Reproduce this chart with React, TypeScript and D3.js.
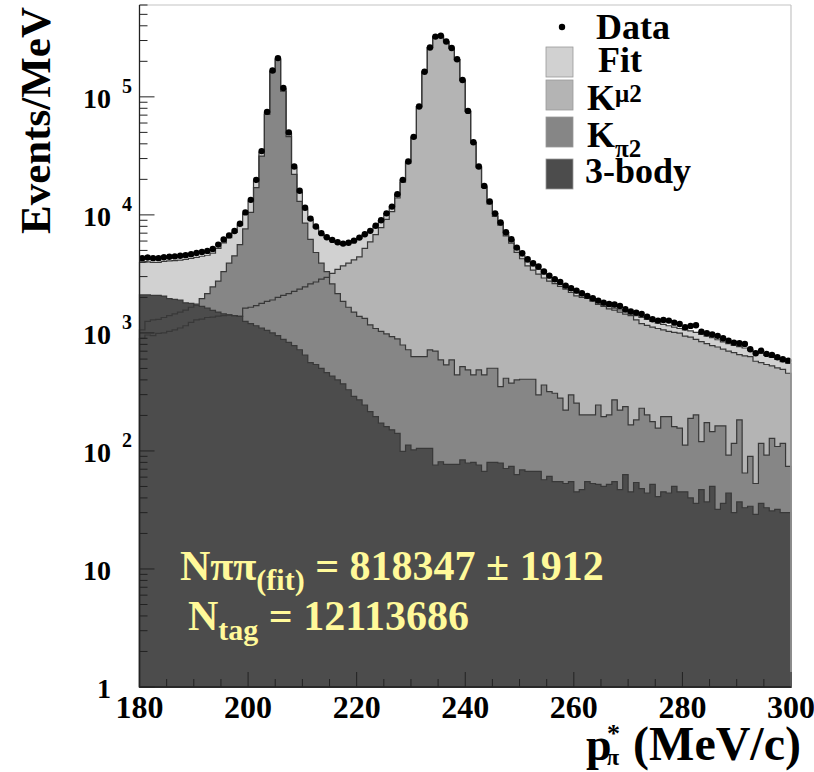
import React from 'react';
import * as d3 from 'd3';

// p*_pi bins: 1 MeV/c from 180 to 300
const binLow = 180;
const binHigh = 300;

const dataCounts = [
  4300, 4350, 4300, 4300, 4380, 4420, 4450, 4500, 4560, 4650,
  4750, 4850, 4950, 5150, 5600, 6200, 6700, 7300, 8400, 10500,
  13400, 19800, 34700, 74600, 167000, 213000, 119000, 50000, 25700, 16000,
  11500, 9300, 7960, 7000, 6470, 6140, 5870, 5710, 5800, 6050,
  6420, 6860, 7320, 8100, 9000, 10300, 11750, 14960, 19800, 28300,
  45800, 82800, 163000, 262000, 324000, 329000, 294000, 259000, 208000, 139000,
  76000, 41300, 25700, 17600, 12970, 10300, 8610, 7130, 6220, 5280,
  4730, 4210, 3890, 3650, 3310, 3060, 2850, 2705, 2517, 2393,
  2282, 2168, 2060, 1968, 1878, 1806, 1761, 1738, 1694, 1588,
  1517, 1486, 1449, 1375, 1306, 1271, 1288, 1271, 1222, 1191,
  1117, 1146, 1161, 1026, 994, 968, 944, 902, 861, 828,
  817, 807, 728, 673, 708, 664, 651, 622, 598, 582,
];

const fitCounts = [
  3960, 4000, 3960, 3960, 4030, 4070, 4090, 4140, 4200, 4280,
  4370, 4460, 4550, 4740, 5200, 5800, 6400, 7100, 8200, 10200,
  13100, 19400, 34000, 73500, 165000, 210000, 117000, 49000, 25000, 15600,
  11200, 9100, 7800, 6900, 6400, 6050, 5800, 5680, 5750, 6000,
  6350, 6800, 7300, 8050, 8950, 10250, 11700, 14900, 19700, 28200,
  45600, 82500, 162500, 261000, 323000, 328000, 293000, 258000, 207000, 138500,
  75800, 41200, 25600, 17500, 12900, 10250, 8550, 7080, 6150, 5200,
  4500, 4000, 3700, 3460, 3160, 2920, 2730, 2580, 2420, 2290,
  2180, 2070, 1970, 1880, 1800, 1730, 1670, 1620, 1570, 1510,
  1450, 1400, 1350, 1300, 1250, 1210, 1180, 1150, 1120, 1090,
  1060, 1040, 1010, 970, 940, 910, 875, 840, 810, 785,
  765, 745, 715, 690, 670, 645, 620, 595, 572, 553,
];

const kmu2Counts = [
  900, 960, 950, 990, 1000, 1030, 1060, 1100, 1150, 1230,
  1290, 1310, 1350, 1360, 1390, 1400, 1420, 1400, 1380, 1620,
  1650, 1700, 1780, 1850, 1900, 2000, 2080, 2150, 2250, 2350,
  2450, 2600, 2700, 2850, 2950, 3200, 3450, 3700, 3900, 4150,
  4400, 5200, 5900, 6800, 7800, 9150, 10650, 13900, 18900, 27400,
  45000, 82000, 162000, 260000, 322000, 327000, 292000, 257000, 206000, 137500,
  75400, 40700, 25100, 17100, 12400, 9700, 8180, 6650, 5770, 4820,
  4250, 3700, 3400, 3150, 2920, 2750, 2620, 2480, 2350, 2200,
  2060, 2000, 1960, 1860, 1740, 1680, 1600, 1560, 1500, 1440,
  1400, 1290, 1200, 1160, 1120, 1090, 1060, 1030, 1010, 995,
  940, 920, 880, 845, 810, 780, 760, 730, 700, 680,
  655, 640, 630, 575, 560, 540, 525, 505, 490, 455,
];

const kpi2Counts = [
  1060, 1250, 1290, 1300, 1350, 1400, 1450, 1500, 1560, 1650,
  1750, 1950, 2150, 2450, 2750, 3300, 3900, 4500, 5600, 7600,
  10500, 17000, 31500, 71000, 163000, 208000, 112000, 46000, 22000, 13000,
  8500, 6200, 4800, 3900, 3300, 2600, 2150, 1850, 1650, 1500,
  1380, 1330, 1170, 1090, 1030, 980, 930, 890, 790, 720,
  630, 630, 630, 718, 700, 590, 536, 590, 441, 518,
  486, 441, 486, 441, 502, 502, 351, 413, 375, 400,
  405, 405, 405, 298, 362, 318, 308, 280, 222, 298,
  254, 202, 202, 202, 245, 195, 202, 271, 222, 237,
  166, 183, 230, 202, 177, 156, 195, 195, 161, 156,
  112, 189, 202, 120, 174, 146, 163, 163, 92, 116,
  183, 65, 90, 53, 116, 92, 128, 109, 116, 74,
];

const threeBodyCounts = [
  2100, 2100, 2080, 2080, 2050, 1950, 1920, 1900, 1800, 1780,
  1720, 1680, 1620, 1550, 1500, 1450, 1420, 1400, 1380, 1250,
  1200, 1150, 1100, 1050, 1000, 950, 880, 830, 780, 720,
  650, 560, 540, 500, 460, 430, 400, 370, 330, 290,
  271, 245, 215, 195, 172, 161, 151, 141, 99, 112,
  102, 105, 105, 105, 76, 81, 77, 77, 77, 84,
  79, 80, 76, 67, 80, 80, 79, 71, 74, 63,
  69, 67, 67, 67, 57, 61, 55, 55, 53, 55,
  45, 47, 55, 53, 52, 50, 52, 55, 47, 63,
  45, 54, 48, 44, 52, 41, 45, 44, 50, 45,
  45, 40, 36, 47, 37, 50, 32, 36, 44, 30,
  37, 33, 34, 29, 36, 33, 31, 32, 30, 30,
];

const xTickValues = [180, 200, 220, 240, 260, 280, 300];
const yDecadeValues = [1, 10, 100, 1000, 10000, 100000];
const yDecadeBase = ['1', '10', '10', '10', '10', '10'];
const yDecadeExp = ['', '', '2', '3', '4', '5'];

const seriesNames = ['Fit', 'K', 'K', '3-body'];
const seriesScripts = ['', 'μ2', 'π2', ''];
const seriesColors = ['#d1d1d1', '#b4b4b4', '#868686', '#4c4c4c'];

const FONT = '"Liberation Serif", "Times New Roman", Times, serif';
const YELLOW = '#fff99a';

export default function App() {
  const left = 139.5, right = 791, top = 5, bottom = 687;
  const x = d3.scaleLinear().domain([binLow, binHigh]).range([left, right]);
  const y = d3.scaleLog().domain([1, 6e5]).range([bottom, top]);

  const stepPath = (vals: number[]) => {
    let d = `M${x(binLow)},${bottom}`;
    vals.forEach((v, i) => {
      const yy = y(Math.max(v, 1));
      d += `L${x(binLow + i)},${yy}L${x(binLow + i + 1)},${yy}`;
    });
    d += `L${x(binHigh)},${bottom}Z`;
    return d;
  };

  const hists = [fitCounts, kmu2Counts, kpi2Counts, threeBodyCounts];

  const yMinor: number[] = [];
  for (let dec = 1; dec <= 1e5; dec *= 10) {
    for (let m = 2; m <= 9; m++) {
      const v = m * dec;
      if (v <= 6e5) yMinor.push(v);
    }
  }
  const xMinor: number[] = [];
  for (let v = binLow + 5; v < binHigh; v += 5) if ((v - binLow) % 20 !== 0) xMinor.push(v);

  return (
    <svg width={814} height={772} style={{ position: 'absolute', left: 0, top: 0, display: 'block', background: '#fff' }}
      fontFamily={FONT} fontWeight="bold">
      <rect x={0} y={0} width={814} height={772} fill="#ffffff" />
      {/* fills */}
      {hists.map((h, k) => (
        <path key={'f' + k} d={stepPath(h)} fill={seriesColors[k]} stroke="none" />
      ))}
      {/* outlines */}
      {hists.map((h, k) => (
        <path key={'o' + k} d={stepPath(h)} fill="none" stroke="#383838" strokeWidth={1.2} />
      ))}
      {/* data points */}
      {dataCounts.map((v, i) => (
        <circle key={'d' + i} cx={x(binLow + i + 0.5)} cy={y(v)} r={3.2} fill="#000" />
      ))}

      {/* frame */}
      <line x1={left} x2={right} y1={top} y2={top} stroke="#c4c4c4" strokeWidth={1.2} />
      <line x1={right} x2={right} y1={top} y2={bottom} stroke="#c4c4c4" strokeWidth={1.2} />
      <line x1={left} x2={left} y1={top} y2={bottom} stroke="#222" strokeWidth={1.3} />
      <line x1={left} x2={right} y1={bottom} y2={bottom} stroke="#222" strokeWidth={1.3} />

      {/* y ticks */}
      {yDecadeValues.map((v) => (
        <line key={'ym' + v} x1={left} x2={left + 15} y1={y(v)} y2={y(v)} stroke="#222" strokeWidth={1} />
      ))}
      {yMinor.map((v) => (
        <line key={'yn' + v} x1={left} x2={left + 8} y1={y(v)} y2={y(v)} stroke="#222" strokeWidth={1} />
      ))}
      {/* x ticks */}
      {xTickValues.map((v) => (
        <line key={'xm' + v} x1={x(v)} x2={x(v)} y1={bottom} y2={bottom - 15} stroke="#222" strokeWidth={1} />
      ))}
      {xMinor.map((v) => (
        <line key={'xn' + v} x1={x(v)} x2={x(v)} y1={bottom} y2={bottom - 8} stroke="#222" strokeWidth={1} />
      ))}

      {/* y tick labels */}
      {yDecadeValues.map((v, i) => (
        <g key={'yl' + v}>
          <text x={111} y={y(v) + 11} fontSize={28} textAnchor="end" fill="#000">{yDecadeBase[i]}</text>
          {yDecadeExp[i] && (
            <text x={122} y={y(v) - 4} fontSize={20} fill="#000">{yDecadeExp[i]}</text>
          )}
        </g>
      ))}
      {/* x tick labels */}
      {xTickValues.map((v) => (
        <text key={'xl' + v} x={x(v)} y={718} fontSize={32} textAnchor="middle" fill="#000">{v}</text>
      ))}

      {/* axis titles */}
      <text transform="translate(50,7) rotate(-90)" textAnchor="end" fontSize={43} fill="#000">Events/MeV</text>
      <text x={801} y={760} fontSize={48} textAnchor="end" fill="#000">(MeV/c)</text>
      <text x={586} y={760} fontSize={46} fill="#000">p</text>
      <text x={607} y={742} fontSize={26} fill="#000">*</text>
      <text x={606} y={765} fontSize={24} fill="#000">π</text>

      {/* legend */}
      <circle cx={562} cy={27} r={3.2} fill="#000" />
      <text x={596} y={39} fontSize={36} fill="#000">Data</text>
      {seriesNames.map((name, k) => {
        const boxY = [47, 80, 117, 159][k];
        const textX = [598, 587, 587, 585][k];
        const textY = [72, 110, 147, 183][k];
        return (
          <g key={'lg' + k}>
            <rect x={546} y={boxY} width={27} height={30} fill={seriesColors[k]} stroke="#999" strokeWidth={0.8} />
            <text x={textX} y={textY} fontSize={36} fill="#000">
              {name}
              {seriesScripts[k] && (
                <tspan fontSize={25} dy={k === 1 ? -8 : 10}>{seriesScripts[k]}</tspan>
              )}
            </text>
          </g>
        );
      })}

      {/* annotations */}
      <text x={180} y={580} fontSize={42} fill={YELLOW} style={{ whiteSpace: 'pre' }}>
        Nππ<tspan fontSize={30} dy={10}>(fit)</tspan><tspan dy={-10}> = 818347 ± 1912</tspan>
      </text>
      <text x={188} y={630} fontSize={42} fill={YELLOW} style={{ whiteSpace: 'pre' }}>
        N<tspan fontSize={30} dy={10}>tag</tspan><tspan dy={-10}> = 12113686</tspan>
      </text>
    </svg>
  );
}
